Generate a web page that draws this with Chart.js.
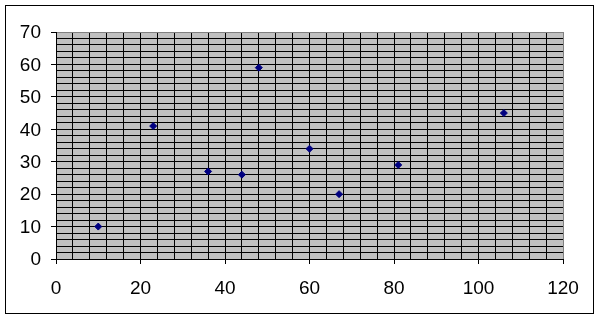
<!DOCTYPE html>
<html>
<head>
<meta charset="utf-8">
<script src="https://cdn.jsdelivr.net/npm/chart.js@4"></script>
<style>
  html, body { margin: 0; padding: 0; background: #fff; }
  #wrap { position: absolute; left: 0; top: 0; width: 599px; height: 321px; }
  #frame { position: absolute; left: 5px; top: 5px; width: 589px; height: 309px; box-sizing: border-box; border: 1px solid #000; pointer-events: none; }
</style>
</head>
<body>
<div id="wrap"><canvas id="c" width="599" height="321"></canvas></div>
<div id="frame"></div>
<script>
const xValues = [10, 23, 36, 44, 48, 60, 67, 81, 106];
const yValues = [10, 41, 27, 26, 59, 34, 20, 29, 45];
const xTickLabels = [0, 20, 40, 60, 80, 100, 120];
const yTickLabels = [0, 10, 20, 30, 40, 50, 60, 70];

const points = xValues.map((x, i) => ({ x: x, y: yValues[i] }));
const font = { family: "'Liberation Sans', Arial, sans-serif", size: 19 };

const bgPlugin = {
  id: 'plotBg',
  beforeDraw(chart) {
    const a = chart.chartArea, ctx = chart.ctx;
    ctx.save();
    ctx.fillStyle = '#c0c0c0';
    ctx.fillRect(a.left, a.top, a.right - a.left, a.bottom - a.top);
    ctx.restore();
  }
};

new Chart(document.getElementById('c'), {
  type: 'scatter',
  data: {
    datasets: [{
      data: points,
      pointStyle: 'rectRot',
      pointRadius: 3.5,
      pointHoverRadius: 3.5,
      borderWidth: 1,
      backgroundColor: '#000080',
      borderColor: '#000080'
    }]
  },
  options: {
    responsive: false,
    animation: false,
    events: [],
    layout: { padding: { left: 0, right: 36, top: 32, bottom: 0 } },
    plugins: { legend: { display: false }, tooltip: { enabled: false } },
    scales: {
      x: {
        type: 'linear',
        min: 0, max: 120,
        afterFit(s) { s.height = 62; },
        border: { display: true, color: '#000', width: 1 },
        grid: {
          drawOnChartArea: true,
          color: (c) => c.tick && c.tick.value === 120 ? '#808080' : '#000',
          lineWidth: 1,
          tickLength: 5,
          tickColor: (c) => c.tick && xTickLabels.includes(c.tick.value) ? '#000' : 'rgba(0,0,0,0)'
        },
        ticks: {
          stepSize: 4,
          autoSkip: false,
          maxRotation: 0,
          maxTicksLimit: 100,
          padding: 13,
          color: '#000',
          font: font,
          callback: (v) => xTickLabels.includes(v) ? String(v) : ''
        }
      },
      y: {
        type: 'linear',
        min: 0, max: 70,
        afterFit(s) { s.width = 56; },
        border: { display: true, color: '#000', width: 1 },
        grid: {
          drawOnChartArea: true,
          color: (c) => c.tick && c.tick.value === 70 ? '#808080' : '#000',
          lineWidth: 1,
          tickLength: 5,
          tickColor: (c) => c.tick && yTickLabels.includes(c.tick.value) ? '#000' : 'rgba(0,0,0,0)'
        },
        ticks: {
          stepSize: 2,
          autoSkip: false,
          maxTicksLimit: 100,
          padding: 10,
          labelOffset: 1,
          color: '#000',
          font: font,
          callback: (v) => yTickLabels.includes(v) ? String(v) : ''
        }
      }
    }
  },
  plugins: [bgPlugin]
});
</script>
</body>
</html>
